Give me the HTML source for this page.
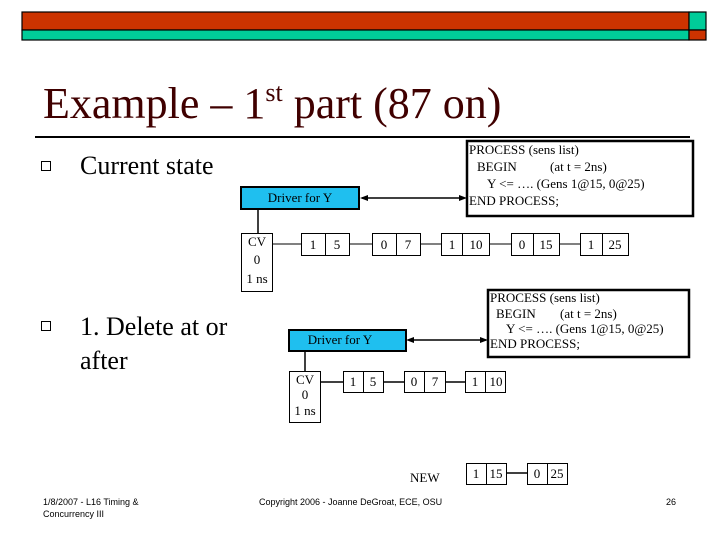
<!DOCTYPE html>
<html><head><style>body{margin:0;background:#fff}svg{display:block}</style></head><body>
<svg width="720" height="540" xmlns="http://www.w3.org/2000/svg" font-family="Liberation Serif, serif">
<rect x="22" y="12" width="667" height="18" fill="#cc3300" stroke="#000" stroke-width="1.2"/>
<rect x="22" y="30" width="667" height="10" fill="#00cc99" stroke="#000" stroke-width="1.2"/>
<rect x="689" y="12" width="17" height="18" fill="#00cc99" stroke="#000" stroke-width="1.2"/>
<rect x="689" y="30" width="17" height="10" fill="#cc3300" stroke="#000" stroke-width="1.2"/>
<text x="43" y="118" font-size="44" fill="#400000">Example – 1<tspan font-size="26" dy="-17">st</tspan><tspan dy="17"> part (87 on)</tspan></text>
<line x1="35" y1="137" x2="690" y2="137" stroke="#000" stroke-width="2"/>
<rect x="41.5" y="161.5" width="9" height="9" fill="none" stroke="#000"/>
<text x="80" y="174" font-size="26">Current state</text>
<rect x="41.5" y="321.5" width="9" height="9" fill="none" stroke="#000"/>
<text x="80" y="335" font-size="26">1. Delete at or</text>
<text x="80" y="369" font-size="26">after</text>
<g font-size="13" fill="#000">
<rect x="467" y="141" width="226" height="75" fill="#fff" stroke="#000" stroke-width="2.5"/>
<text x="469" y="154">PROCESS (sens list)</text>
<text x="477" y="171">BEGIN<tspan x="550">(at t = 2ns)</tspan></text>
<text x="487" y="188">Y &lt;= ….  (Gens 1@15, 0@25)</text>
<text x="469" y="205">END PROCESS;</text>
<rect x="241" y="187" width="118" height="22" fill="#1fbfef" stroke="#000" stroke-width="2"/>
<text x="300" y="202" text-anchor="middle">Driver for Y</text>
<line x1="362" y1="198" x2="464" y2="198" stroke="#000" stroke-width="1.5"/>
<path d="M360 198l8-3v6zM467 198l-8-3v6z"/>
<line x1="258" y1="209" x2="258" y2="233" stroke="#000" stroke-width="1.5"/>
<rect x="241.5" y="233.5" width="31" height="58" fill="#fff" stroke="#000"/>
<text x="257" y="246" text-anchor="middle">CV</text><text x="257" y="264" text-anchor="middle">0</text><text x="257" y="283" text-anchor="middle">1 ns</text>
<line x1="273" y1="244" x2="580" y2="244" stroke="#000"/>
<g stroke="#000" fill="#fff">
<rect x="301.5" y="233.5" width="48" height="22"/><line x1="325.5" y1="233" x2="325.5" y2="256"/>
<rect x="372.5" y="233.5" width="48" height="22"/><line x1="396.5" y1="233" x2="396.5" y2="256"/>
<rect x="441.5" y="233.5" width="48" height="22"/><line x1="462.5" y1="233" x2="462.5" y2="256"/>
<rect x="511.5" y="233.5" width="48" height="22"/><line x1="533.5" y1="233" x2="533.5" y2="256"/>
<rect x="580.5" y="233.5" width="48" height="22"/><line x1="602.5" y1="233" x2="602.5" y2="256"/>
</g>
<g text-anchor="middle">
<text x="313" y="249">1</text><text x="337" y="249">5</text>
<text x="384" y="249">0</text><text x="408" y="249">7</text>
<text x="452" y="249">1</text><text x="476" y="249">10</text>
<text x="522" y="249">0</text><text x="546" y="249">15</text>
<text x="591" y="249">1</text><text x="615" y="249">25</text>
</g>
<rect x="488" y="290" width="201" height="67" fill="#fff" stroke="#000" stroke-width="2.5"/>
<text x="490" y="302">PROCESS (sens list)</text>
<text x="496" y="318">BEGIN<tspan x="560">(at t = 2ns)</tspan></text>
<text x="506" y="333">Y &lt;= ….  (Gens 1@15, 0@25)</text>
<text x="490" y="348">END PROCESS;</text>
<rect x="289" y="330" width="117" height="21" fill="#1fbfef" stroke="#000" stroke-width="2"/>
<text x="340" y="344" text-anchor="middle">Driver for Y</text>
<line x1="409" y1="340" x2="486" y2="340" stroke="#000" stroke-width="1.5"/>
<path d="M406 340l8-3v6zM488 340l-8-3v6z"/>
<line x1="305" y1="351" x2="305" y2="371" stroke="#000" stroke-width="1.5"/>
<rect x="289.5" y="371.5" width="31" height="51" fill="#fff" stroke="#000"/>
<text x="305" y="384" text-anchor="middle">CV</text><text x="305" y="399" text-anchor="middle">0</text><text x="305" y="415" text-anchor="middle">1 ns</text>
<line x1="321" y1="382" x2="465" y2="382" stroke="#000" stroke-width="1.5"/>
<g stroke="#000" fill="#fff">
<rect x="343.5" y="371.5" width="40" height="21"/><line x1="363.5" y1="371" x2="363.5" y2="393"/>
<rect x="404.5" y="371.5" width="41" height="21"/><line x1="424.5" y1="371" x2="424.5" y2="393"/>
<rect x="465.5" y="371.5" width="40" height="21"/><line x1="485.5" y1="371" x2="485.5" y2="393"/>
</g>
<g text-anchor="middle">
<text x="353" y="386">1</text><text x="373" y="386">5</text>
<text x="414" y="386">0</text><text x="435" y="386">7</text>
<text x="475" y="386">1</text><text x="496" y="386">10</text>
</g>
<text x="410" y="482">NEW</text>
<line x1="506" y1="473" x2="527" y2="473" stroke="#000" stroke-width="1.5"/>
<g stroke="#000" fill="#fff">
<rect x="466.5" y="463.5" width="40" height="21"/><line x1="486.5" y1="463" x2="486.5" y2="485"/>
<rect x="527.5" y="463.5" width="40" height="21"/><line x1="547.5" y1="463" x2="547.5" y2="485"/>
</g>
<g text-anchor="middle">
<text x="476" y="478">1</text><text x="496" y="478">15</text>
<text x="537" y="478">0</text><text x="557" y="478">25</text>
</g>
</g>
<g font-family="Liberation Sans, sans-serif" font-size="9" fill="#000">
<text x="43" y="505">1/8/2007 - L16 Timing &amp;</text>
<text x="43" y="517">Concurrency III</text>
<text x="259" y="505">Copyright 2006 - Joanne DeGroat, ECE, OSU</text>
<text x="666" y="505">26</text>
</g>
</svg>
</body></html>
